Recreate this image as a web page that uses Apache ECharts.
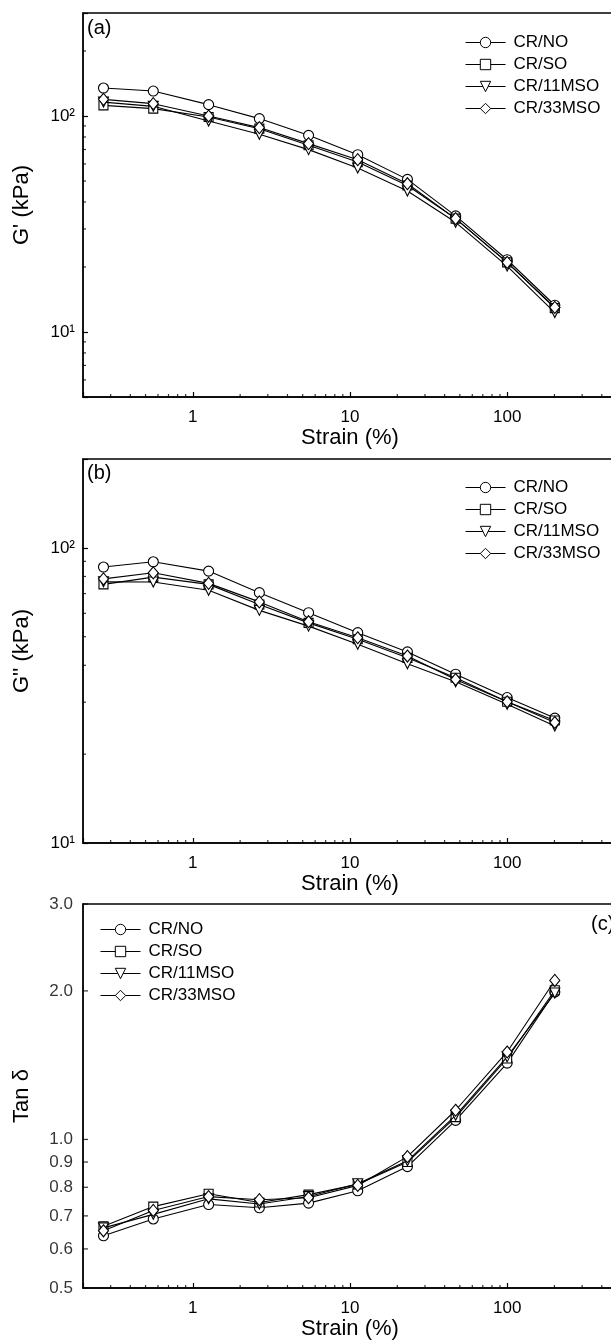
<!DOCTYPE html>
<html><head><meta charset="utf-8">
<script src="https://cdn.jsdelivr.net/npm/echarts@6/dist/echarts.min.js"></script>
<style>html,body{margin:0;padding:0;background:#fff;overflow:hidden}#c{width:611px;height:1342px}</style>
</head><body><div id="c"></div>
<script>
// ---- data ----
const strain = [0.27, 0.56, 1.26, 2.65, 5.45, 11.2, 23.2, 47, 100, 201];
const seriesNames = ['CR/NO', 'CR/SO', 'CR/11MSO', 'CR/33MSO'];

// (a) G' (kPa)
const gp_NO    = [134.8, 130.5, 112.9, 97.3, 81.4, 66.2, 50.9, 34.5, 21.6, 13.3];
const gp_SO    = [112.0, 108.2, 98.9, 87.4, 73.2, 61.2, 47.7, 33.5, 21.0, 12.9];
const gp_11MSO = [116.0, 110.9, 94.8, 82.3, 69.9, 57.4, 45.0, 32.2, 20.2, 12.3];
const gp_33MSO = [119.5, 114.1, 100.0, 88.4, 74.5, 62.8, 48.6, 33.5, 21.0, 13.0];

// (b) G'' (kPa)
const gpp_NO    = [86.1, 89.7, 83.4, 70.5, 60.3, 51.6, 44.4, 37.3, 31.1, 26.5];
const gpp_SO    = [75.2, 79.6, 75.2, 64.3, 55.7, 49.0, 42.4, 36.3, 30.1, 26.0];
const gpp_11MSO = [76.7, 76.6, 71.8, 61.4, 54.3, 47.1, 40.5, 35.2, 29.5, 24.9];
const gpp_33MSO = [78.5, 82.3, 75.8, 65.6, 56.2, 49.6, 43.0, 35.8, 30.1, 25.6];

// (c) Tan delta
const tan_NO    = [0.638, 0.690, 0.738, 0.727, 0.743, 0.787, 0.881, 1.093, 1.428, 1.99];
const tan_SO    = [0.667, 0.731, 0.776, 0.745, 0.773, 0.811, 0.900, 1.110, 1.459, 2.006];
const tan_11MSO = [0.662, 0.705, 0.758, 0.740, 0.766, 0.813, 0.905, 1.119, 1.470, 1.98];
const tan_33MSO = [0.653, 0.718, 0.766, 0.755, 0.762, 0.807, 0.923, 1.146, 1.504, 2.10];

// ticks
const xMinorTicks = [0.3,0.4,0.5,0.6,0.7,0.8,0.9,2,3,4,5,6,7,8,9,20,30,40,50,60,70,80,90,200,300,400];
const yMinorTicksA = [6,7,8,9,20,30,40,50,60,70,80,90,200];
const yMinorTicksB = [20,30,40,50,60,70,80,90];
const tanTicks = [0.5,0.6,0.7,0.8,0.9,1.0,2.0,3.0];
const tanTickLabels = ['0.5','0.6','0.7','0.8','0.9','1.0','2.0','3.0'];
const panelLabels = ['(a)','(b)','(c)'];
const yTitles = ["G' (kPa)", "G'' (kPa)", 'Tan δ'];
const xTitle = 'Strain (%)';

// ---- styling ----
const FF = '"Liberation Sans", Arial, Helvetica, sans-serif';
const X_MIN = 0.2, X_MAX = 500;
const Y_RANGES = [[5, 300], [10, 200], [0.5, 3]];
const SYM = ['circle', 'rect', 'triangle', 'diamond'];
const SYM_SIZE = [10, 9, 10, [10, 12]];
const SYM_ROT = [0, 0, 180, 0];
const GRID_TOPS = [13, 459, 904];

const panels = [
  [gp_NO, gp_SO, gp_11MSO, gp_33MSO],
  [gpp_NO, gpp_SO, gpp_11MSO, gpp_33MSO],
  [tan_NO, tan_SO, tan_11MSO, tan_33MSO]
];

function isPow10(v) {
  const l = Math.log10(v);
  return Math.abs(l - Math.round(l)) < 1e-6;
}
const SUP = {'0':'⁰','1':'¹','2':'²','3':'³'};

const grids = GRID_TOPS.map(t => ({
  left: 83, top: t, width: 534, height: 384, containLabel: false, outerBoundsMode: 'none',
  show: true, borderColor: '#000', borderWidth: 1.3, backgroundColor: 'transparent'
}));

const xAxes = [0,1,2].map(gi => ({
  type: 'log', logBase: 10, gridIndex: gi, min: X_MIN, max: X_MAX,
  name: xTitle, nameLocation: 'middle', nameGap: 30,
  nameTextStyle: {fontSize: 22, color: '#000', fontFamily: FF},
  axisLine: {onZero: false, lineStyle: {color: '#000', width: 1.5}},
  axisTick: {inside: true, length: 5, lineStyle: {color: '#000', width: 1.2}},
  axisLabel: {fontSize: 17, color: '#000', fontFamily: FF, margin: 12,
    formatter: v => isPow10(v) ? String(Math.round(v)) : ''},
  splitLine: {show: false}
}));

const yAxes = [0,1,2].map(gi => ({
  type: 'log', logBase: 10, gridIndex: gi, min: Y_RANGES[gi][0], max: Y_RANGES[gi][1],
  name: yTitles[gi], nameLocation: 'middle', nameGap: 50,
  nameTextStyle: {fontSize: 22, color: '#000', fontFamily: FF},
  axisLine: {onZero: false, lineStyle: {color: '#000', width: 1.5}},
  axisTick: {show: gi < 2, inside: true, length: 5, lineStyle: {color: '#000', width: 1.2}},
  axisLabel: {show: gi < 2, fontSize: 17, color: '#000', fontFamily: FF, margin: 8,
    formatter: v => isPow10(v) ? '10' + SUP[String(Math.round(Math.log10(v)))] : ''},
  splitLine: {show: false}
}));

const series = [];
panels.forEach((sets, gi) => {
  sets.forEach((vals, k) => {
    series.push({
      type: 'line', name: seriesNames[k], xAxisIndex: gi, yAxisIndex: gi,
      data: strain.map((x, i) => [x, vals[i]]),
      symbol: SYM[k], symbolSize: SYM_SIZE[k], symbolRotate: SYM_ROT[k], showAllSymbol: true,
      lineStyle: {color: '#000', width: 1.1},
      itemStyle: {color: '#fff', borderColor: '#000', borderWidth: 1.1},
      emphasis: {disabled: true}, z: 2 + k, clip: false, animation: false
    });
  });
  // x minor ticks (inward from bottom axis)
  series.push({
    type: 'scatter', xAxisIndex: gi, yAxisIndex: gi, silent: true, clip: false, animation: false,
    data: xMinorTicks.map(v => [v, Y_RANGES[gi][0]]),
    symbol: 'rect', symbolSize: [1.2, 3], symbolOffset: [0, -1.5],
    itemStyle: {color: '#000'}, z: 10
  });
});
// y minor ticks for (a) and (b)
[[0, yMinorTicksA], [1, yMinorTicksB]].forEach(([gi, arr]) => {
  series.push({
    type: 'scatter', xAxisIndex: gi, yAxisIndex: gi, silent: true, clip: false, animation: false,
    data: arr.map(v => [X_MIN, v]),
    symbol: 'rect', symbolSize: [3, 1.2], symbolOffset: [1.5, 0],
    itemStyle: {color: '#000'}, z: 10
  });
});
// (c) y ticks with labels
series.push({
  type: 'scatter', xAxisIndex: 2, yAxisIndex: 2, silent: true, clip: false, animation: false,
  data: tanTicks.map((v, i) => ({value: [X_MIN, v], label: {formatter: tanTickLabels[i]}})),
  symbol: 'rect', symbolSize: [5, 1.2], symbolOffset: [2.5, 0],
  itemStyle: {color: '#000'}, z: 10,
  label: {show: true, position: 'left', distance: 10, fontSize: 17, color: '#000', fontFamily: FF}
});

function legendAt(left, top) {
  return {
    orient: 'vertical', left: left, top: top, itemWidth: 40, itemHeight: 13, itemGap: 5,
    selectedMode: false, data: seriesNames,
    lineStyle: {width: 1, color: '#000'},
    itemStyle: {color: '#fff', borderColor: '#000', borderWidth: 1},
    textStyle: {fontSize: 17, color: '#000', fontFamily: FF, lineHeight: 17, padding: [0, 0, 0, 3]}
  };
}

const option = {
  animation: false,
  backgroundColor: '#fff',
  grid: grids, xAxis: xAxes, yAxis: yAxes, series: series,
  legend: [legendAt(460, 29), legendAt(460, 474), legendAt(95, 916)],
  graphic: [
    {type: 'text', left: 87, top: 18, style: {text: panelLabels[0], fontSize: 20, fill: '#000', fontFamily: FF}},
    {type: 'text', left: 87, top: 463, style: {text: panelLabels[1], fontSize: 20, fill: '#000', fontFamily: FF}},
    {type: 'text', left: 591, top: 914, style: {text: panelLabels[2], fontSize: 20, fill: '#000', fontFamily: FF}}
  ]
};
const chart = echarts.init(document.getElementById('c'), null, {renderer: 'canvas'});
chart.setOption(option);
</script>
</body></html>
